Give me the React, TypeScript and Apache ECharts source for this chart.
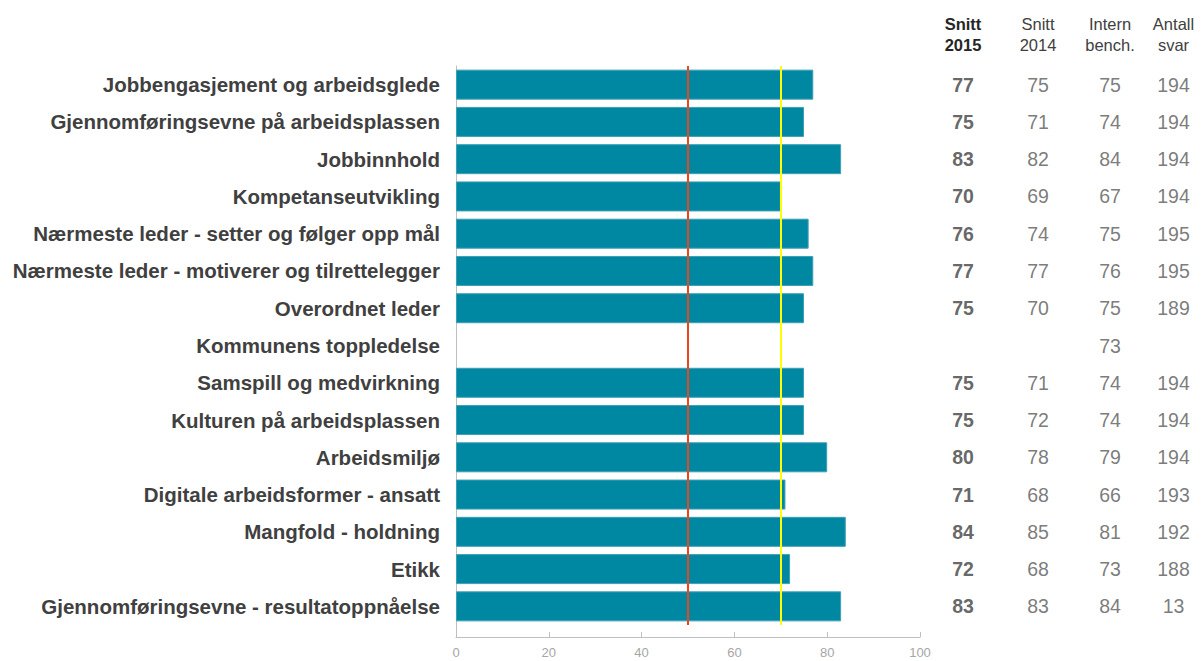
import React, { useEffect, useRef } from "react";
import * as echarts from "echarts";

const categories = [
  "Jobbengasjement og arbeidsglede",
  "Gjennomføringsevne på arbeidsplassen",
  "Jobbinnhold",
  "Kompetanseutvikling",
  "Nærmeste leder - setter og følger opp mål",
  "Nærmeste leder - motiverer og tilrettelegger",
  "Overordnet leder",
  "Kommunens toppledelse",
  "Samspill og medvirkning",
  "Kulturen på arbeidsplassen",
  "Arbeidsmiljø",
  "Digitale arbeidsformer - ansatt",
  "Mangfold - holdning",
  "Etikk",
  "Gjennomføringsevne - resultatoppnåelse",
];
const snitt2015: (number | null)[] = [77, 75, 83, 70, 76, 77, 75, null, 75, 75, 80, 71, 84, 72, 83];
const snitt2014: (number | null)[] = [75, 71, 82, 69, 74, 77, 70, null, 71, 72, 78, 68, 85, 68, 83];
const internBench: (number | null)[] = [75, 74, 84, 67, 75, 76, 75, 73, 74, 74, 79, 66, 81, 73, 84];
const antallSvar: (number | null)[] = [194, 194, 194, 194, 195, 195, 189, null, 194, 194, 194, 193, 192, 188, 13];
const columnHeaders = ["Snitt\n2015", "Snitt\n2014", "Intern\nbench.", "Antall\nsvar"];
const refLow = 50;
const refHigh = 70;
const xTicks = { min: 0, max: 100, interval: 20 };

const FONT = "'Liberation Sans', Arial, sans-serif";

export default function App() {
  const ref = useRef<HTMLDivElement>(null);
  useEffect(() => {
    if (!ref.current) return;
    const chart = echarts.init(ref.current, undefined, { renderer: "svg" });
    const columns = [snitt2015, snitt2014, internBench, antallSvar];
    const colCenters = [963, 1038, 1110, 1176];
    const PLOT_TOP = 66;
    const BAR_H = 559;

    const grids: any[] = [
      { left: 456, top: PLOT_TOP, width: 464, height: BAR_H },
      { left: 456, top: PLOT_TOP, width: 464, height: 571 },
    ];
    const xAxes: any[] = [
      { gridIndex: 0, type: "value", min: xTicks.min, max: xTicks.max, show: false },
      {
        gridIndex: 1,
        type: "value",
        min: xTicks.min,
        max: xTicks.max,
        interval: xTicks.interval,
        axisLine: { show: true, lineStyle: { color: "#BFBFBF", width: 1 } },
        axisTick: { show: true, inside: true, length: 5, lineStyle: { color: "#BFBFBF" } },
        axisLabel: { color: "#A6A6A6", fontSize: 13, fontFamily: FONT, margin: 9 },
        splitLine: { show: false },
      },
    ];
    const yAxes: any[] = [
      {
        gridIndex: 0,
        type: "category",
        data: categories,
        inverse: true,
        axisLine: { show: false },
        axisTick: { show: false },
        axisLabel: { color: "#404040", fontSize: 20.5, fontWeight: "bold", fontFamily: FONT, margin: 16 },
      },
      {
        gridIndex: 1,
        type: "value",
        axisLine: { show: true, lineStyle: { color: "#BFBFBF", width: 1 } },
        axisTick: { show: false },
        axisLabel: { show: false },
        splitLine: { show: false },
      },
    ];
    const series: any[] = [
      {
        type: "bar",
        xAxisIndex: 0,
        yAxisIndex: 0,
        data: snitt2015.map((v) => (v == null ? "-" : v)),
        barWidth: 30,
        itemStyle: { color: "#0088A3", borderColor: "#3D9FB5", borderWidth: 1 },
        markLine: {
          silent: true,
          symbol: "none",
          label: { show: false },
          data: [
            { xAxis: refLow, lineStyle: { color: "#E8461E", width: 2, type: "solid" } },
            { xAxis: refHigh, lineStyle: { color: "#FFFF00", width: 2, type: "solid" } },
          ],
        },
      },
    ];

    columns.forEach((col, ci) => {
      const gi = 2 + ci;
      grids.push({ left: colCenters[ci] - 30, top: PLOT_TOP, width: 60, height: BAR_H });
      xAxes.push({
        gridIndex: gi,
        type: "value",
        min: -1,
        max: 1,
        position: "top",
        axisLine: { show: false },
        axisTick: { show: false },
        axisLabel: { show: false },
        splitLine: { show: false },
        name: columnHeaders[ci],
        nameLocation: "middle",
        nameGap: 11,
        nameTextStyle: {
          fontSize: 16.5,
          fontFamily: FONT,
          lineHeight: 21,
          color: ci === 0 ? "#262626" : "#404040",
          fontWeight: ci === 0 ? "bold" : "normal",
        },
      });
      yAxes.push({ gridIndex: gi, type: "category", data: categories, inverse: true, show: false });
      series.push({
        type: "scatter",
        xAxisIndex: gi,
        yAxisIndex: gi,
        symbolSize: 0,
        silent: true,
        data: col
          .map((v, i) => (v == null ? null : { value: [0, categories[i]], text: String(v) }))
          .filter((d) => d !== null),
        label: {
          show: true,
          position: "inside",
          formatter: (p: any) => p.data.text,
          fontSize: 19.5,
          fontFamily: FONT,
          color: ci === 0 ? "#404040" : "#595959",
          fontWeight: ci === 0 ? "bold" : "normal",
        },
      });
    });

    chart.setOption({
      animation: false,
      backgroundColor: "#ffffff",
      grid: grids,
      xAxis: xAxes,
      yAxis: yAxes,
      series,
    });
    return () => chart.dispose();
  }, []);
  return (
    <div
      ref={ref}
      style={{ position: "fixed", left: 0, top: 0, width: 1201, height: 661 }}
    />
  );
}
